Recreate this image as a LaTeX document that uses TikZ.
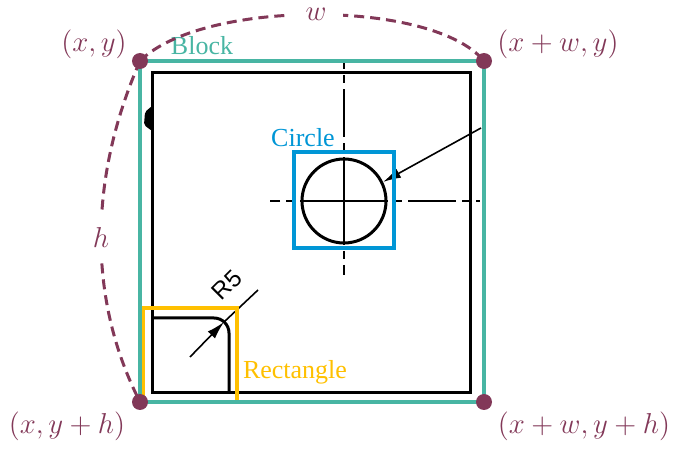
\documentclass[tikz,border=0pt]{standalone}
\usepackage{fontspec}
\setmainfont{Liberation Serif}
\setsansfont{Liberation Sans}
\usepackage{amsmath}
\usepackage{tikz}
\usetikzlibrary{arrows.meta}
\definecolor{blockgreen}{RGB}{72,181,163}
\definecolor{circblue}{RGB}{0,150,214}
\definecolor{rectyellow}{RGB}{255,192,0}
\definecolor{ptmaroon}{RGB}{130,56,88}

\begin{document}
\begin{tikzpicture}[>={Latex[length=9pt,width=5pt]},x=0.5pt,y=-0.5pt,
    dot/.style={circle,fill=ptmaroon,inner sep=0pt,minimum size=8pt},
    span/.style={ptmaroon,line width=1.5pt,dash pattern=on 5pt off 3pt},
    spanlbl/.style={fill=white,text=ptmaroon,font=\fontsize{14}{16}\selectfont},
    coordlbl/.style={ptmaroon,font=\fontsize{14}{16}\selectfont},
    centreline/.style={line width=1pt,dash pattern=on 24pt off 3pt on 4pt off 3pt,dash phase=2pt},
    tag/.style={font=\fontsize{13}{15}\selectfont,inner sep=0pt}]
        \useasboundingbox (0,0) rectangle (682,449);
        \coordinate (tl) at (140,61);
        \coordinate (tr) at (484,61);
        \coordinate (bl) at (140,402);
        \coordinate (br) at (484,402);
        \coordinate (cc) at (344,201);
        % centre lines of the hole
        \draw[centreline] (cc)--(344,63);
        \draw[centreline] (cc)--(344,275);
        \draw[centreline] (cc)--(270,201);
        \draw[centreline] (cc)--(480,201);
        % part outline
        \draw[line width=1.5pt] (152,73) rectangle (470,393);
        \fill[rounded corners=1pt] (152,106)--(145,112)--(144,125)--(152,131)--cycle;
        \draw[line width=1.5pt] (cc) circle[radius=42];
        \draw[line width=1.5pt,rounded corners=7.5pt] (152,318)--(229,318)--(229,393);
        % leaders
        \coordinate (hole) at (383,182);
        \coordinate (holefrom) at (481,128);
        \draw[->,line width=0.8pt] (holefrom)--(hole);
        \coordinate (rtip) at (224,322);
        \coordinate (rfrom) at (190,357);
        \coordinate (rend) at (258,290);
        \draw[->,line width=0.8pt] (rfrom)--(rtip);
        \draw[line width=0.8pt] (rtip)--(rend);
        \node[rotate=45,inner sep=0pt,font=\sffamily\fontsize{12}{14}\selectfont] (r5) at (227,285) {R5};
        % boxes
        \draw[circblue,line width=2pt] (294,152) rectangle (394,248);
        \draw[rectyellow,line width=2pt] (143,308) rectangle (237,402);
        \draw[blockgreen,line width=2pt] (tl) rectangle (br);
        \node[tag,blockgreen] (block) at (202,46) {Block};
        \node[tag,circblue] (circ) at (303,138) {Circle};
        \node[tag,rectyellow] (rect) at (295,372) {Rectangle};
        % width and height
        \draw[span] (tl) .. controls (202,-1) and (433,-1) .. (tr)
            node[spanlbl,pos=0.5,inner xsep=8pt,inner ysep=1pt] (wl) {\(w\)};
        \draw[span] (tl) .. controls (88,180) and (88,300) .. (bl)
            node[spanlbl,pos=0.5,inner xsep=1pt,inner ysep=7pt] (hl) {\(h\)};
        \node[dot] (ptl) at (tl) {};
        \node[dot] (ptr) at (tr) {};
        \node[dot] (pbl) at (bl) {};
        \node[dot] (pbr) at (br) {};
        \node[coordlbl] (ltl) at (94,44) {\((x,y)\)};
        \node[coordlbl] (ltr) at (558,44) {\((x+w,y)\)};
        \node[coordlbl] (lbl) at (67,426) {\((x,y+h)\)};
        \node[coordlbl] (lbr) at (584,426) {\((x+w,y+h)\)};
    \end{tikzpicture}
\end{document}
